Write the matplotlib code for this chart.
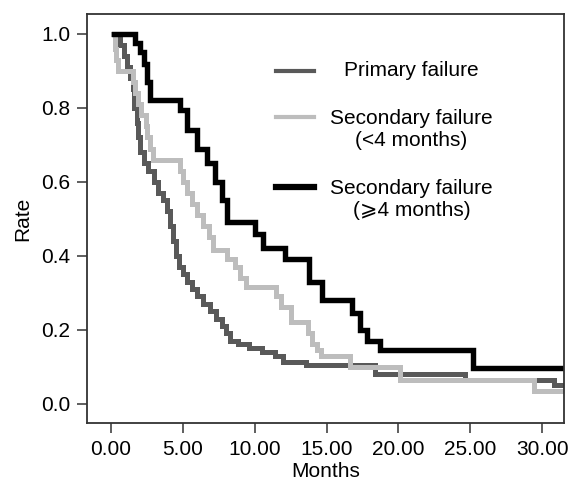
import matplotlib
matplotlib.use("Agg")
import matplotlib.pyplot as plt

plt.rcParams['font.family'] = ['Liberation Sans', 'DejaVu Sans']

# Kaplan-Meier style step curves (months, rate after step)
primary_t = [0.15, 0.6, 0.9, 1.1, 1.3, 1.5, 1.6, 1.8, 1.9, 2.0, 2.3, 2.6, 3.0, 3.3,
             3.6, 3.9, 4.1, 4.3, 4.5, 4.7, 5.0, 5.3, 5.6, 6.0, 6.4, 6.9, 7.3, 7.7,
             8.0, 8.3, 8.8, 9.6, 10.5, 11.4, 12.0, 13.6, 18.4, 24.6, 30.8, 31.6]
primary_r = [1.0, 0.97, 0.94, 0.91, 0.88, 0.85, 0.80, 0.76, 0.72, 0.68, 0.65, 0.63,
             0.60, 0.57, 0.55, 0.52, 0.48, 0.44, 0.40, 0.37, 0.35, 0.33, 0.31, 0.29,
             0.27, 0.25, 0.23, 0.21, 0.19, 0.17, 0.16, 0.15, 0.14, 0.13, 0.112,
             0.104, 0.08, 0.063, 0.05, 0.05]

early_t = [0.15, 0.25, 0.35, 0.5, 1.5, 1.7, 1.9, 2.1, 2.4, 2.5, 2.7, 2.9, 4.8, 5.0,
           5.3, 5.6, 6.0, 6.4, 6.8, 7.1, 8.1, 8.6, 9.0, 9.4, 11.5, 11.8, 12.5, 13.7,
           14.0, 14.3, 14.6, 16.6, 20.1, 29.4, 31.6]
early_r = [1.0, 0.96, 0.93, 0.90, 0.87, 0.84, 0.81, 0.78, 0.75, 0.72, 0.69, 0.66,
           0.63, 0.60, 0.57, 0.54, 0.51, 0.48, 0.45, 0.415, 0.39, 0.37, 0.34, 0.315,
           0.29, 0.26, 0.22, 0.19, 0.16, 0.145, 0.13, 0.098, 0.063, 0.033, 0.033]

late_t = [0.2, 1.67, 2.0, 2.3, 2.5, 2.7, 4.8, 5.3, 6.0, 6.7, 7.2, 7.7, 8.1, 10.0,
          10.6, 12.1, 13.8, 14.7, 16.8, 17.3, 17.8, 18.7, 25.2, 31.6]
late_r = [1.0, 0.975, 0.95, 0.92, 0.87, 0.82, 0.795, 0.74, 0.69, 0.65, 0.60, 0.55,
          0.49, 0.46, 0.42, 0.39, 0.33, 0.28, 0.244, 0.20, 0.17, 0.145, 0.096, 0.096]

labels = ["Primary failure", "Secondary failure\n(<4 months)", "Secondary failure\n(\u2a7e4 months)"]
colors = ["#595959", "#bdbdbd", "#000000"]

fig = plt.figure(figsize=(5.68, 4.82), dpi=100)
ax = fig.add_axes([0.154, 0.1224, 0.839, 0.8486])

ax.step(primary_t, primary_r, where='post', color=colors[0], lw=3.6, solid_joinstyle='miter')
ax.step(early_t, early_r, where='post', color=colors[1], lw=3.6, solid_joinstyle='miter')
ax.step(late_t, late_r, where='post', color=colors[2], lw=3.9, solid_joinstyle='miter')

ax.set_xlim(-1.64, 31.52)
ax.set_ylim(-0.0525, 1.054)
ax.set_xticks([0, 5, 10, 15, 20, 25, 30])
ax.set_xticklabels(["0.00", "5.00", "10.00", "15.00", "20.00", "25.00", "30.00"])
ax.set_yticks([0, 0.2, 0.4, 0.6, 0.8, 1.0])
ax.set_yticklabels(["0.0", "0.2", "0.4", "0.6", "0.8", "1.0"])
ax.tick_params(direction='out', length=7.5, width=1.1, color='#333333',
               labelsize=15, pad=5)
for s in ax.spines.values():
    s.set_color('#333333')
    s.set_linewidth(1.3)
ax.set_xlabel("Months", fontsize=15, labelpad=2)
ax.set_ylabel("Rate", fontsize=15, labelpad=6)

# legend drawn by hand: short line + centred text
leg_y = [0.861, 0.748, 0.577]
for c, lab, y, lw in zip(colors, labels, leg_y, [3, 3, 4.5]):
    ax.plot([0.395, 0.476], [y, y], transform=ax.transAxes, color=c, lw=lw)
    shift = -9 if '\n' in lab else 0
    ax.annotate(lab, xy=(0.68, y), xycoords='axes fraction', xytext=(0, shift),
                textcoords='offset points', ha='center', va='center',
                fontsize=15, linespacing=1.2)

fig.savefig("out.png", dpi=100)
